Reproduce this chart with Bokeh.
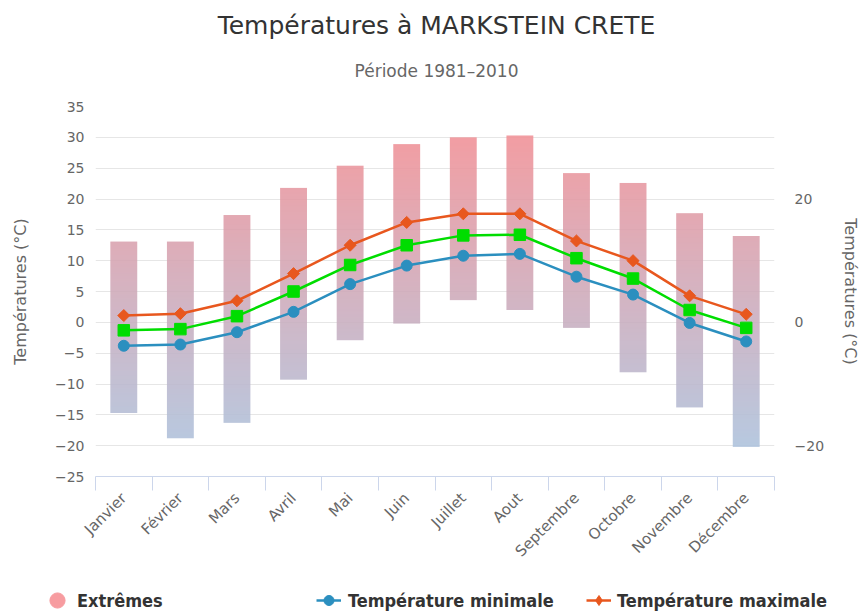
import numpy as np
from bokeh.plotting import figure
from bokeh.layouts import column
from bokeh.models import (Range1d, LinearAxis, FixedTicker, Label, Legend, LegendItem,
                          ColumnDataSource)
from bokeh.embed import file_html
from bokeh.resources import INLINE

# ---- data ----
months = ["Janvier", "Février", "Mars", "Avril", "Mai", "Juin", "Juillet", "Aout",
          "Septembre", "Octobre", "Novembre", "Décembre"]
ext_min = [-14.7, -18.8, -16.3, -9.3, -2.9, -0.2, 3.6, 2.0, -0.9, -8.1, -13.8, -20.2]
ext_max = [13.1, 13.1, 17.4, 21.8, 25.4, 28.9, 30.0, 30.3, 24.2, 22.6, 17.7, 14.0]
t_min = [-3.8, -3.6, -1.6, 1.7, 6.2, 9.2, 10.8, 11.1, 7.4, 4.5, -0.1, -3.1]
t_mean = [-1.3, -1.1, 1.0, 5.0, 9.3, 12.5, 14.1, 14.2, 10.4, 7.1, 2.0, -0.9]
t_max = [1.1, 1.4, 3.5, 7.9, 12.5, 16.2, 17.6, 17.6, 13.2, 10.0, 4.3, 1.3]
left_ticks = [-25, -20, -15, -10, -5, 0, 5, 10, 15, 20, 25, 30, 35]
right_ticks = [-20, 0, 20]
title_text = "Températures à MARKSTEIN CRETE"
subtitle_text = "Période 1981–2010"

FONT = "DejaVu Sans"
LFONT = "DejaVu Sans Condensed"
ORANGE = "#e8571e"
BLUE = "#2b8fbf"
GREEN = "#00dd00"
PINK = "#f79ca0"
AX = "#666666"

def fmt(v):
    return "\u2212" + str(abs(v)) if v < 0 else str(v)

Y0, Y1 = -25, 35
W = 863
H_TOP, H_MAIN, H_LEG = 96, 487, 30

def strip(h):
    f = figure(width=W, height=h, output_backend="svg", toolbar_location=None, title=None,
               x_range=Range1d(0, W), y_range=Range1d(0, h), x_axis_type=None, y_axis_type=None,
               min_border=0, outline_line_color=None, background_fill_color="white",
               border_fill_color="white")
    f.frame_align = False
    f.xgrid.visible = False
    f.ygrid.visible = False
    return f

# ---- title strip ----
top = strip(H_TOP)
top.add_layout(Label(x=436, y=H_TOP - 25, text=title_text, text_align="center",
                     text_baseline="middle", text_font=FONT, text_font_size="25px",
                     text_color="#333333"))
top.add_layout(Label(x=436, y=H_TOP - 70, text=subtitle_text, text_align="center",
                     text_baseline="middle", text_font=FONT, text_font_size="17px",
                     text_color="#666666"))

# ---- main chart ----
p = figure(width=W, height=H_MAIN, output_backend="svg", toolbar_location=None, title=None,
           x_range=Range1d(0, 12), y_range=Range1d(Y0, Y1),
           min_border_left=95, min_border_right=86, min_border_top=10, min_border_bottom=107,
           outline_line_color=None, background_fill_color="white", border_fill_color="white")
p.frame_align = False

xc = [i + 0.5 for i in range(len(months))]
xa = p.xaxis[0]
xa.ticker = FixedTicker(ticks=xc, minor_ticks=list(range(len(months) + 1)))
xa.major_label_overrides = {x: m for x, m in zip(xc, months)}
xa.major_tick_line_color = None
xa.major_tick_out = 0
xa.major_tick_in = 0
xa.minor_tick_line_color = "#ccd6eb"
xa.minor_tick_in = 0
xa.minor_tick_out = 14
xa.axis_line_color = "#ccd6eb"
xa.major_label_orientation = np.pi / 4
xa.major_label_standoff = 5
xa.major_label_text_font = FONT
xa.major_label_text_font_size = "15px"
xa.major_label_text_color = AX

ya = p.yaxis[0]
ya.ticker = FixedTicker(ticks=left_ticks)
ya.major_label_overrides = {v: fmt(v) for v in left_ticks}
ya.axis_line_color = None
ya.major_tick_line_color = None
ya.major_tick_out = 0
ya.major_tick_in = 0
ya.minor_tick_line_color = None
ya.major_label_standoff = 11
ya.major_label_text_font = FONT
ya.major_label_text_font_size = "14px"
ya.major_label_text_color = AX
ya.axis_label = "Températures (°C)"
ya.axis_label_text_font = FONT
ya.axis_label_text_font_style = "normal"
ya.axis_label_text_font_size = "16px"
ya.axis_label_text_color = AX
ya.axis_label_standoff = 22

p.xgrid.visible = False
p.ygrid.grid_line_color = "#e6e6e6"
p.ygrid.grid_line_width = 1

ra = LinearAxis(ticker=FixedTicker(ticks=right_ticks),
                major_label_overrides={v: fmt(v) for v in right_ticks},
                axis_line_color=None, major_tick_line_color=None, minor_tick_line_color=None,
                major_tick_out=0, major_tick_in=0,
                major_label_standoff=20, major_label_text_font=FONT, major_label_text_font_size="14px",
                major_label_text_color=AX, axis_label="Températures (°C)", axis_label_text_font=FONT,
                axis_label_text_font_style="normal", axis_label_text_font_size="16px",
                axis_label_text_color=AX, axis_label_standoff=14)
p.add_layout(ra, "right")

# ---- gradient bars (extremes) ----
top_rgb = np.array([247, 136, 140], dtype=float)
bot_rgb = np.array([164, 197, 226], dtype=float)
NR, NC = 300, 4
bw = 0.475
imgs, xs, dws, dhs = [], [], [], []
for i in range(len(months)):
    lo, hi = ext_min[i], ext_max[i]
    vals = lo + (np.arange(NR) + 0.5) / NR * (hi - lo)
    f = ((vals - Y0) / (Y1 - Y0))[:, None]
    rgb = bot_rgb + f * (top_rgb - bot_rgb)
    img = np.empty((NR, NC), dtype=np.uint32)
    view = img.view(dtype=np.uint8).reshape((NR, NC, 4))
    view[:, :, 0:3] = np.round(rgb)[:, None, :].astype(np.uint8)
    view[:, :, 3] = 255
    imgs.append(img)
    xs.append(xc[i] - bw / 2)
    dws.append(bw)
    dhs.append(hi - lo)
src = ColumnDataSource(dict(image=imgs, x=xs, y=ext_min, dw=dws, dh=dhs))
p.image_rgba(image="image", x="x", y="y", dw="dw", dh="dh", source=src, global_alpha=0.85)

# ---- lines ----
p.line(xc, t_max, line_color=ORANGE, line_width=2.5)
p.scatter(xc, t_max, marker="square", angle=np.pi / 4, size=8.5, color=ORANGE)
p.line(xc, t_mean, line_color=GREEN, line_width=2.5)
p.scatter(xc, t_mean, marker="square", size=11.5, color=GREEN)
p.line(xc, t_min, line_color=BLUE, line_width=2.5)
p.scatter(xc, t_min, marker="circle", size=11, color=BLUE)

# ---- legend strip ----
lg = strip(H_LEG)
nan = np.array([np.nan])
d_ext = lg.scatter(x=nan, y=nan, marker="circle", size=15, color=PINK)
d_minl = lg.line(x=nan, y=nan, line_color=BLUE, line_width=2.5)
d_mins = lg.scatter(x=nan, y=nan, marker="circle", size=11, color=BLUE)
d_maxl = lg.line(x=nan, y=nan, line_color=ORANGE, line_width=2.5)
d_maxs = lg.scatter(x=nan, y=nan, marker="diamond", size=11, color=ORANGE)

CY = 13  # legend row centre, px from the strip's bottom

def add_leg(label, rends, gw, gh, vx, standoff):
    leg = Legend(items=[LegendItem(label=label, renderers=rends)],
                 location=(vx, CY - gh / 2), padding=0, margin=0, spacing=0,
                 glyph_width=gw, glyph_height=gh, label_standoff=standoff, label_height=gh,
                 label_text_font=LFONT, label_text_font_style="bold",
                 label_text_font_size="18px", label_text_color="#333333",
                 border_line_color=None, background_fill_alpha=0)
    lg.add_layout(leg, "center")

add_leg("Extrêmes", [d_ext], 38, 38, 38, 1)
add_leg("Température minimale", [d_minl, d_mins], 25, 26, 316, 7)
add_leg("Température maximale", [d_maxl, d_maxs], 25, 26, 586, 6)

layout = column(top, p, lg, spacing=0)
open("out.html", "w").write(file_html(layout, INLINE))
